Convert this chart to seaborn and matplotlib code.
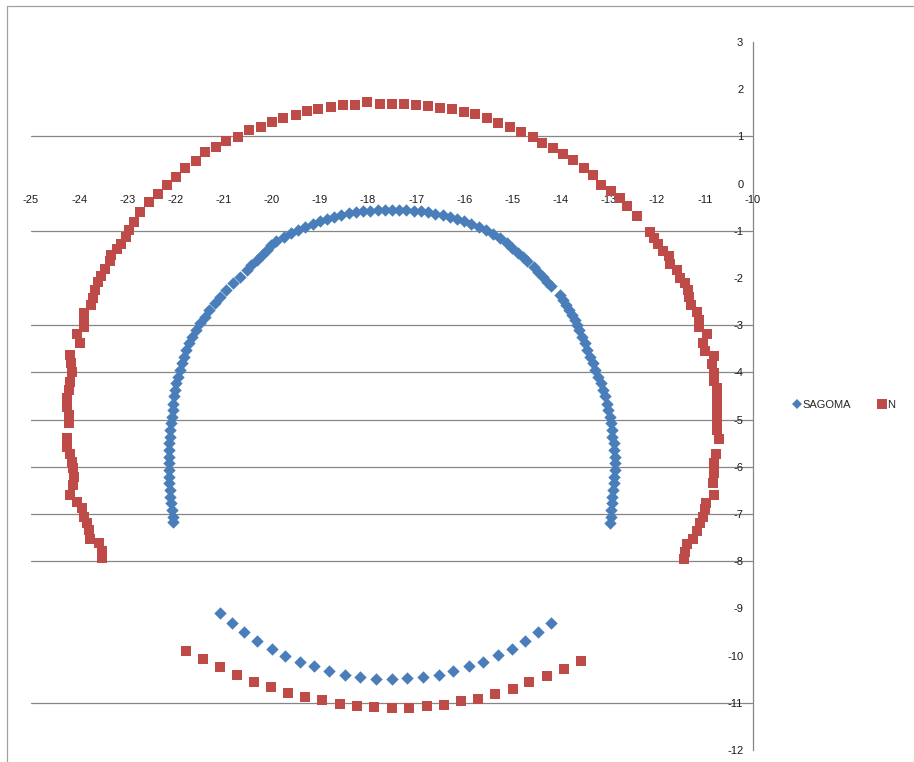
import matplotlib
matplotlib.use("Agg")
import matplotlib.pyplot as plt
from matplotlib.lines import Line2D
import pandas as pd
import seaborn as sns

# SAGOMA, upper arch (left leg bottom->top, crown, right leg top->bottom)
sagoma_left = [(-22.04, -7.18), (-22.06, -7.06), (-22.08, -6.92), (-22.09, -6.77), (-22.11, -6.63),
               (-22.12, -6.49), (-22.13, -6.35), (-22.13, -6.21), (-22.14, -6.07), (-22.14, -5.93),
               (-22.14, -5.79), (-22.13, -5.64), (-22.13, -5.50), (-22.12, -5.36), (-22.11, -5.22),
               (-22.09, -5.08), (-22.08, -4.94), (-22.06, -4.80), (-22.05, -4.66), (-22.03, -4.51),
               (-22.01, -4.37), (-21.98, -4.23), (-21.95, -4.09), (-21.91, -3.95), (-21.87, -3.81),
               (-21.83, -3.67), (-21.78, -3.53), (-21.71, -3.38), (-21.65, -3.24), (-21.58, -3.10),
               (-21.49, -2.96), (-21.39, -2.82), (-21.30, -2.68), (-21.18, -2.54), (-21.07, -2.40),
               (-20.95, -2.25), (-20.81, -2.11), (-20.66, -1.97), (-20.52, -1.83), (-20.42, -1.72),
               (-20.31, -1.62), (-20.21, -1.51), (-20.10, -1.41), (-20.02, -1.30)]
sagoma_crown = [(-19.90, -1.22), (-19.75, -1.13), (-19.60, -1.05), (-19.45, -0.98), (-19.30, -0.91),
                (-19.15, -0.85), (-19.00, -0.79), (-18.85, -0.74), (-18.70, -0.70), (-18.55, -0.66),
                (-18.40, -0.63), (-18.25, -0.61), (-18.10, -0.59), (-17.95, -0.57), (-17.80, -0.56),
                (-17.65, -0.55), (-17.50, -0.55), (-17.35, -0.55), (-17.20, -0.56), (-17.05, -0.57),
                (-16.90, -0.59), (-16.75, -0.61), (-16.60, -0.64), (-16.45, -0.67), (-16.30, -0.71),
                (-16.15, -0.75), (-16.00, -0.80), (-15.85, -0.86), (-15.70, -0.92), (-15.55, -0.99),
                (-15.40, -1.07), (-15.25, -1.16), (-15.12, -1.26)]
sagoma_right = [(-15.01, -1.37), (-14.88, -1.48), (-14.77, -1.56), (-14.69, -1.65), (-14.56, -1.76),
                (-14.46, -1.87), (-14.36, -1.97), (-14.27, -2.08), (-14.19, -2.17), (-14.02, -2.36),
                (-13.95, -2.47), (-13.88, -2.57), (-13.82, -2.68), (-13.76, -2.78), (-13.70, -2.89),
                (-13.65, -3.00), (-13.61, -3.10), (-13.56, -3.24), (-13.50, -3.38), (-13.44, -3.53),
                (-13.39, -3.67), (-13.33, -3.81), (-13.28, -3.95), (-13.21, -4.09), (-13.16, -4.23),
                (-13.12, -4.37), (-13.07, -4.51), (-13.04, -4.66), (-13.01, -4.80), (-12.98, -4.94),
                (-12.95, -5.08), (-12.93, -5.22), (-12.92, -5.36), (-12.89, -5.50), (-12.88, -5.64),
                (-12.87, -5.79), (-12.87, -5.93), (-12.87, -6.07), (-12.89, -6.21), (-12.89, -6.35),
                (-12.91, -6.49), (-12.92, -6.63), (-12.93, -6.77), (-12.94, -6.92), (-12.96, -7.06),
                (-12.98, -7.20)]
# SAGOMA, invert
sagoma_lower = [(-21.07, -9.09), (-20.82, -9.30), (-20.57, -9.49), (-20.30, -9.69), (-20.00, -9.85),
                (-19.73, -10.00), (-19.42, -10.13), (-19.12, -10.23), (-18.80, -10.33), (-18.48, -10.42),
                (-18.17, -10.46), (-17.83, -10.49), (-17.51, -10.50), (-17.18, -10.48), (-16.86, -10.46),
                (-16.53, -10.41), (-16.23, -10.33), (-15.91, -10.23), (-15.60, -10.13), (-15.30, -9.99),
                (-15.01, -9.85), (-14.73, -9.69), (-14.46, -9.49), (-14.20, -9.30)]

# N, outer arch
n_left = [(-23.53, -7.94), (-23.53, -7.78), (-23.59, -7.62), (-23.77, -7.54), (-23.80, -7.34),
          (-23.84, -7.20), (-23.90, -7.06), (-23.95, -6.88), (-24.04, -6.74), (-24.18, -6.60),
          (-24.12, -6.39), (-24.11, -6.21), (-24.12, -6.03), (-24.15, -5.89), (-24.20, -5.72),
          (-24.25, -5.57), (-24.26, -5.40), (-24.22, -5.08), (-24.22, -4.90), (-24.25, -4.73),
          (-24.25, -4.55), (-24.22, -4.37), (-24.18, -4.20), (-24.15, -3.99), (-24.16, -3.81),
          (-24.19, -3.63), (-23.98, -3.37), (-24.04, -3.19), (-23.90, -3.03), (-23.90, -2.89),
          (-23.89, -2.75), (-23.75, -2.57), (-23.72, -2.43), (-23.66, -2.26), (-23.61, -2.08),
          (-23.55, -1.96), (-23.47, -1.80), (-23.36, -1.65), (-23.33, -1.51), (-23.22, -1.39),
          (-23.12, -1.27), (-23.03, -1.13), (-22.96, -0.98), (-22.85, -0.81)]
n_crown = [(-22.74, -0.60), (-22.54, -0.40), (-22.36, -0.21), (-22.18, -0.02), (-21.99, 0.13),
           (-21.80, 0.32), (-21.58, 0.48), (-21.39, 0.66), (-21.16, 0.77), (-20.94, 0.91),
           (-20.69, 0.99), (-20.48, 1.14), (-20.23, 1.20), (-20.00, 1.31), (-19.76, 1.38),
           (-19.50, 1.45), (-19.26, 1.54), (-19.03, 1.57), (-18.77, 1.63), (-18.51, 1.66),
           (-18.26, 1.67), (-18.01, 1.72), (-17.75, 1.69), (-17.50, 1.69), (-17.26, 1.69),
           (-17.01, 1.67), (-16.75, 1.64), (-16.50, 1.60), (-16.25, 1.57), (-16.00, 1.52),
           (-15.77, 1.47), (-15.53, 1.38), (-15.29, 1.29), (-15.05, 1.19), (-14.83, 1.09),
           (-14.58, 0.99), (-14.38, 0.85), (-14.15, 0.75), (-13.94, 0.62), (-13.73, 0.50),
           (-13.52, 0.32), (-13.33, 0.18), (-13.15, -0.02), (-12.96, -0.15), (-12.76, -0.30),
           (-12.61, -0.48)]
n_right = [(-12.40, -0.69), (-12.15, -1.02), (-12.06, -1.16), (-11.97, -1.28), (-11.88, -1.42),
           (-11.74, -1.53), (-11.72, -1.70), (-11.57, -1.83), (-11.52, -1.99), (-11.41, -2.11),
           (-11.36, -2.26), (-11.34, -2.41), (-11.29, -2.57), (-11.17, -2.71), (-11.13, -2.89),
           (-11.13, -3.03), (-10.96, -3.19), (-11.04, -3.37), (-10.99, -3.54), (-10.82, -3.65),
           (-10.85, -3.82), (-10.82, -4.01), (-10.80, -4.18), (-10.75, -4.34), (-10.75, -4.52),
           (-10.75, -4.71), (-10.74, -4.88), (-10.74, -5.08), (-10.75, -5.22), (-10.70, -5.42),
           (-10.77, -5.72), (-10.81, -5.93), (-10.82, -6.14), (-10.84, -6.35), (-10.80, -6.60),
           (-10.98, -6.76), (-11.00, -6.90), (-11.04, -7.06), (-11.11, -7.20), (-11.16, -7.35),
           (-11.25, -7.52), (-11.38, -7.64), (-11.41, -7.80), (-11.43, -7.96)]
# N, invert
n_lower = [(-21.77, -9.90), (-21.42, -10.08), (-21.07, -10.25), (-20.73, -10.42), (-20.37, -10.55),
           (-20.01, -10.67), (-19.67, -10.79), (-19.30, -10.87), (-18.95, -10.94), (-18.59, -11.03),
           (-18.23, -11.07), (-17.87, -11.08), (-17.51, -11.11), (-17.15, -11.10), (-16.78, -11.07),
           (-16.42, -11.04), (-16.07, -10.97), (-15.71, -10.91), (-15.35, -10.81), (-14.99, -10.70),
           (-14.65, -10.56), (-14.29, -10.43), (-13.93, -10.28), (-13.58, -10.12)]

series_names = ["SAGOMA", "N"]
colors = {"SAGOMA": "#4A7EBB", "N": "#BE4B48"}
markers = {"SAGOMA": "D", "N": "s"}
x_ticks = list(range(-25, -9))
y_ticks = list(range(-12, 4))
grid_levels = [1, -1, -3, -4, -5, -6, -7, -8, -11]

rows = []
for name, parts in [("SAGOMA", [sagoma_left, sagoma_crown, sagoma_right, sagoma_lower]),
                    ("N", [n_left, n_crown, n_right, n_lower])]:
    for part in parts:
        for x, y in part:
            rows.append({"x": x, "y": y, "serie": name})
df = pd.DataFrame(rows)

sns.set_style("white")
plt.rcParams["font.family"] = ["Liberation Sans", "DejaVu Sans"]

fig = plt.figure(figsize=(9.14, 7.62), dpi=100)
ax = fig.add_axes([31 / 914, 12 / 762, 722 / 914, 708 / 762])
ax.set_facecolor("none")

for lvl in grid_levels:
    ax.axhline(lvl, color="#868686", lw=0.9, zorder=0)

sizes = {"SAGOMA": 40, "N": 62}
for name in series_names:
    sns.scatterplot(data=df[df.serie == name], x="x", y="y", ax=ax,
                    marker=markers[name], color=colors[name], s=sizes[name],
                    linewidth=0, label=name, legend=False, zorder=3)

ax.set_xlim(-25, -10)
ax.set_ylim(-12, 3)
ax.set_xlabel("")
ax.set_ylabel("")

for side in ["top", "right"]:
    ax.spines[side].set_visible(False)
ax.spines["left"].set_position(("data", -10))
ax.spines["left"].set_color("#868686")
ax.spines["left"].set_linewidth(0.9)
ax.spines["bottom"].set_position(("data", 0))
ax.spines["bottom"].set_color("none")

ax.set_xticks(x_ticks)
ax.set_xticklabels([str(v) for v in x_ticks])
ax.set_yticks(y_ticks)
ax.set_yticklabels([str(v) for v in y_ticks])
ax.tick_params(axis="x", direction="out", length=3, width=0.8, color="#868686",
               pad=5, labelsize=8, labelcolor="#1a1a1a")
ax.tick_params(axis="y", length=0, pad=7, labelsize=8, labelcolor="#1a1a1a")

handles = [Line2D([], [], marker=markers[n], color=colors[n], linestyle="none",
                  markersize=5.5 if n == "SAGOMA" else 7, markeredgewidth=0)
           for n in series_names]
fig.legend(handles, series_names, loc="center left", ncol=2, frameon=False,
           bbox_to_anchor=(783 / 914, 1 - 405 / 762), fontsize=8,
           handlelength=0.8, handletextpad=0.05, columnspacing=2.4)

fig.add_artist(Line2D([7 / 914, 7 / 914], [0, 1 - 6 / 762], color="#a0a0a0", lw=0.9))
fig.add_artist(Line2D([7 / 914, 1], [1 - 6 / 762, 1 - 6 / 762], color="#a0a0a0", lw=0.9))

fig.savefig("out.png", dpi=100)
